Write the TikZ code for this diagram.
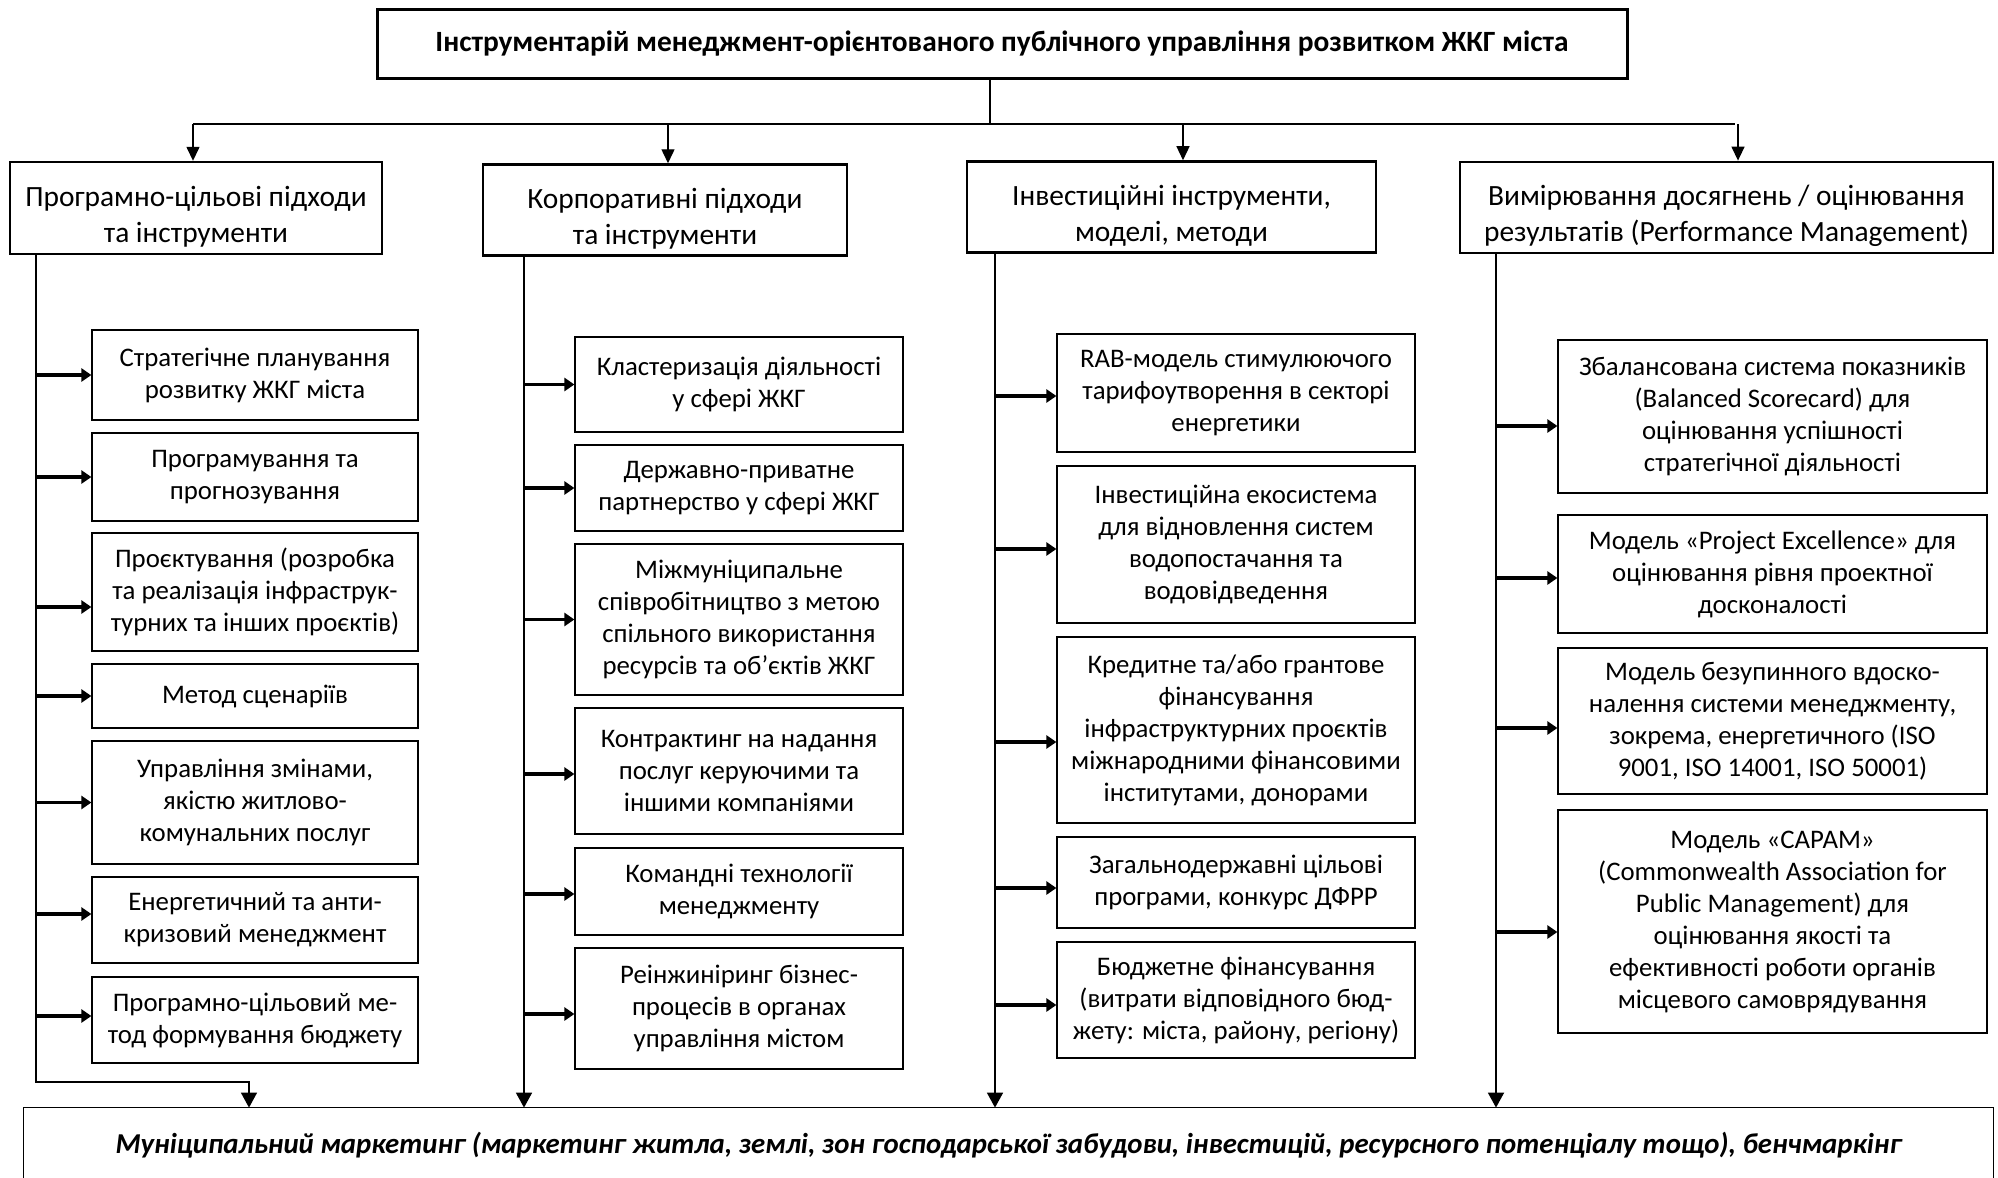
\documentclass[tikz,border=0pt]{standalone}
\usepackage{fontspec}
\setmainfont{Carlito}
\usetikzlibrary{arrows.meta}

\newcommand{\headstrut}{\rule{0pt}{18.5pt}}

\tikzset{
  titlebox/.style={draw, line width=1.5pt, align=center, font=\bfseries\fontsize{14.7}{17}\selectfont},
  headbox/.style={draw, line width=1.2pt, align=center, font=\fontsize{14.7}{18}\selectfont},
  subbox/.style={draw, line width=0.6pt, align=center, inner sep=1pt, font=\fontsize{13.4}{16}\selectfont},
  col1/.style={subbox, minimum width=163pt},
  col2/.style={subbox, minimum width=164pt},
  col3/.style={subbox, minimum width=179pt},
  col4/.style={subbox, minimum width=214.5pt},
  busline/.style={line width=0.6pt},
  downarr/.style={line width=0.7pt, -{Triangle[length=7pt,width=6.5pt]}},
  trunkarr/.style={line width=0.9pt, -{Triangle[length=7.5pt,width=8pt]}},
  branch/.style={line width=1.6pt, -{Triangle[length=5pt,width=6.5pt]}}
}

\begin{document}
\begin{tikzpicture}[x=0.5pt, y=-0.5pt]
  \clip (0,0) rectangle (1998,1178);

  % title and column heads
  \node[titlebox, minimum width=625pt, minimum height=34.5pt] (t) at (1002,43.5)
    {Інструментарій менеджмент-орієнтованого публічного управління розвитком ЖКГ міста};
  \node[headbox, minimum width=186pt, minimum height=46pt] (h1) at (196,208)
    {\headstrut Програмно-цільові підходи\\та інструменти};
  \node[headbox, minimum width=182pt, minimum height=44pt] (h2) at (665,210)
    {\headstrut Корпоративні підходи\\та інструменти};
  \node[headbox, minimum width=204.5pt, minimum height=45pt] (h3) at (1171.5,207)
    {\headstrut Інвестиційні інструменти,\\моделі, методи};
  \node[headbox, minimum width=266.5pt, minimum height=45.5pt] (h4) at (1726.5,207.5)
    {\headstrut Вимірювання досягнень / оцінювання\\результатів (Performance Management)};

  % column 1
  \node[col1, minimum height=45pt] (a1) at (255,375) {Стратегічне планування\\розвитку ЖКГ міста};
  \node[col1, minimum height=44pt] (a2) at (255,477) {Програмування та\\прогнозування};
  \node[col1, minimum height=59pt] (a3) at (255,592) {Проєктування (розробка\\та реалізація інфраструк-\\турних та інших проєктів)};
  \node[col1, minimum height=32pt] (a4) at (255,696) {Метод сценаріїв};
  \node[col1, minimum height=61.5pt] (a5) at (255,802.5) {Управління змінами,\\якістю житлово-\\комунальних послуг};
  \node[col1, minimum height=43pt] (a6) at (255,920) {Енергетичний та анти-\\кризовий менеджмент};
  \node[col1, minimum height=43pt] (a7) at (255,1020) {Програмно-цільовий ме-\\тод формування бюджету};

  % column 2
  \node[col2, minimum height=47.5pt] (b1) at (739,384.5) {Кластеризація діяльності\\у сфері ЖКГ};
  \node[col2, minimum height=43pt] (b2) at (739,488) {Державно-приватне\\партнерство у сфері ЖКГ};
  \node[col2, minimum height=75.5pt] (b3) at (739,619.5) {Міжмуніципальне\\співробітництво з метою\\спільного використання\\ресурсів та об’єктів ЖКГ};
  \node[col2, minimum height=63pt] (b4) at (739,771) {Контрактинг на надання\\послуг керуючими та\\іншими компаніями};
  \node[col2, minimum height=43.5pt] (b5) at (739,891.5) {Командні технології\\менеджменту};
  \node[col2, minimum height=60.5pt] (b6) at (739,1008.5) {Реінжиніринг бізнес-\\процесів в органах\\управління містом};

  % column 3
  \node[col3, minimum height=59pt] (c1) at (1236,393) {RAB-модель стимулюючого\\тарифоутворення в секторі\\енергетики};
  \node[col3, minimum height=78.5pt] (c2) at (1236,544.5) {Інвестиційна екосистема\\для відновлення систем\\водопостачання та\\водовідведення};
  \node[col3, minimum height=93pt] (c3) at (1236,730) {Кредитне та/або грантове\\фінансування\\інфраструктурних проєктів\\міжнародними фінансовими\\інститутами, донорами};
  \node[col3, minimum height=45.5pt] (c4) at (1236,882.5) {Загальнодержавні цільові\\програми, конкурс ДФРР};
  \node[col3, minimum height=58pt] (c5) at (1236,1000) {Бюджетне фінансування\\(витрати відповідного бюд-\\жету: міста, району, регіону)};

  % column 4
  \node[col4, minimum height=76.5pt] (d1) at (1772.5,416.5) {Збалансована система показників\\(Balanced Scorecard) для\\оцінювання успішності\\стратегічної діяльності};
  \node[col4, minimum height=59pt] (d2) at (1772.5,574) {Модель «Project Excellence» для\\оцінювання рівня проектної\\досконалості};
  \node[col4, minimum height=73pt] (d3) at (1772.5,721) {Модель безупинного вдоско-\\налення системи менеджменту,\\зокрема, енергетичного (ISO\\9001, ISO 14001, ISO 50001)};
  \node[col4, minimum height=111.5pt] (d4) at (1772.5,921.5) {Модель «САРАМ»\\(Commonwealth Association for\\Public Management) для\\оцінювання якості та\\ефективності роботи органів\\місцевого самоврядування};

  % bottom box, open at the lower edge
  \node[minimum width=984.5pt, minimum height=37pt, font=\bfseries\itshape\fontsize{14.4}{17}\selectfont] (m) at (1008.5,1145)
    {Муніципальний маркетинг (маркетинг житла, землі, зон господарської забудови, інвестицій, ресурсного потенціалу тощо), бенчмаркінг};
  \draw[line width=0.8pt] (m.north west |- 0,1200) -- (m.north west) -- (m.north east) -- (m.north east |- 0,1200);

  % top connectors
  \coordinate (bus) at (990,124);
  \coordinate (j1) at (193,124);
  \coordinate (j2) at (668,124);
  \coordinate (j3) at (1183,124);
  \coordinate (j4) at (1738,124);
  \draw[busline] (t.south -| bus) -- (bus);
  \draw[busline] (j1) -- (1735,124);
  \draw[downarr] (j1) -- (j1 |- h1.north);
  \draw[downarr] (j2) -- (j2 |- h2.north);
  \draw[downarr] (j3) -- (j3 |- h3.north);
  \draw[downarr] (j4) -- (j4 |- h4.north);

  % trunks
  \coordinate (tr1) at (36,1082);
  \coordinate (e1) at (249,1082);
  \coordinate (tr2) at (524,600);
  \coordinate (tr3) at (995,600);
  \coordinate (tr4) at (1496,600);
  \draw[trunkarr, line width=0.7pt] (h1.south -| tr1) -- (tr1) -- (e1) -- (e1 |- m.north);
  \draw[trunkarr] (h2.south -| tr2) -- (tr2 |- m.north);
  \draw[trunkarr] (h3.south -| tr3) -- (tr3 |- m.north);
  \draw[trunkarr] (h4.south -| tr4) -- (tr4 |- m.north);

  % branches
  \draw[branch] (tr1 |- a1.west) -- (a1.west);
  \draw[branch] (tr1 |- a2.west) -- (a2.west);
  \draw[branch] (tr1 |- 0,607) -- (a3.west |- 0,607);
  \draw[branch] (tr1 |- a4.west) -- (a4.west);
  \draw[branch] (tr1 |- a5.west) -- (a5.west);
  \draw[branch] (tr1 |- 0,914) -- (a6.west |- 0,914);
  \draw[branch] (tr1 |- 0,1016) -- (a7.west |- 0,1016);
  \draw[branch] (tr2 |- b1.west) -- (b1.west);
  \draw[branch] (tr2 |- b2.west) -- (b2.west);
  \draw[branch] (tr2 |- b3.west) -- (b3.west);
  \draw[branch] (tr2 |- 0,774) -- (b4.west |- 0,774);
  \draw[branch] (tr2 |- 0,894) -- (b5.west |- 0,894);
  \draw[branch] (tr2 |- 0,1014) -- (b6.west |- 0,1014);
  \draw[branch] (tr3 |- 0,396) -- (c1.west |- 0,396);
  \draw[branch] (tr3 |- 0,549) -- (c2.west |- 0,549);
  \draw[branch] (tr3 |- 0,742) -- (c3.west |- 0,742);
  \draw[branch] (tr3 |- 0,888) -- (c4.west |- 0,888);
  \draw[branch] (tr3 |- 0,1005) -- (c5.west |- 0,1005);
  \draw[branch] (tr4 |- 0,426) -- (d1.west |- 0,426);
  \draw[branch] (tr4 |- 0,578) -- (d2.west |- 0,578);
  \draw[branch] (tr4 |- 0,728) -- (d3.west |- 0,728);
  \draw[branch] (tr4 |- 0,932) -- (d4.west |- 0,932);
\end{tikzpicture}
\end{document}
